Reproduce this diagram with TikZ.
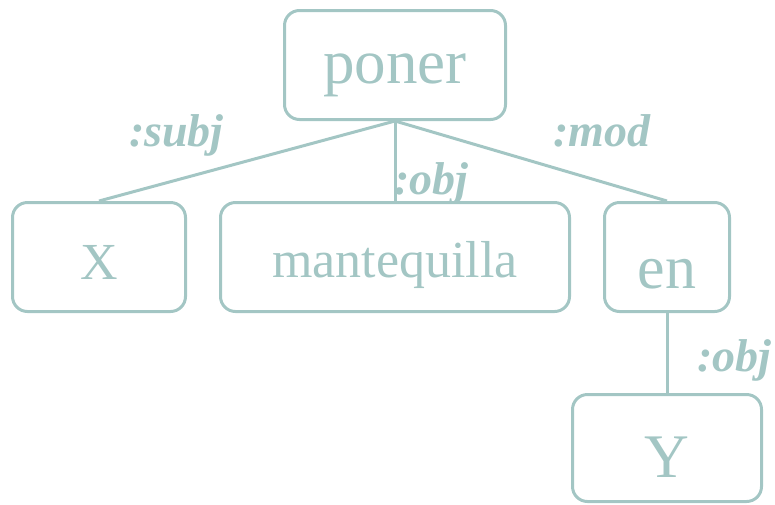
\documentclass[tikz,border=0pt]{standalone}
\usepackage{fontspec}
\setmainfont{Liberation Serif}
\definecolor{tc}{HTML}{A3C6C4}
\begin{document}
\begin{tikzpicture}[x=1pt,y=-1pt,
  box/.style={draw=tc, text=tc, line width=3pt, rounded corners=15pt, inner sep=0pt, text depth=0pt},
  lbl/.style={text=tc, font=\fontsize{46}{46}\selectfont\bfseries\itshape, inner sep=0pt, anchor=base west},
  conn/.style={draw=tc, line width=3pt}]
\useasboundingbox (0,0) rectangle (775,504);
\node[box, minimum width=221pt, minimum height=109pt, text height=36pt, font=\fontsize{63}{63}\selectfont] (poner) at (395,65) {poner};
\node[box, minimum width=173pt, minimum height=109pt, text height=44pt, font=\fontsize{52}{52}\selectfont] (X) at (99,257) {X};
\node[box, minimum width=349pt, minimum height=109pt, text height=40pt, font=\fontsize{52}{52}\selectfont] (mant) at (395,257) {mantequilla};
\node[box, minimum width=125pt, minimum height=109pt, text height=62pt, font=\fontsize{62}{62}\selectfont] (en) at (667,257) {en};
\node[box, minimum width=189pt, minimum height=107pt, text height=58pt, font=\fontsize{62}{62}\selectfont] (Y) at (667,448) {Y};
\draw[conn] (poner.south) -- (X.north);
\draw[conn] (poner.south) -- (mant.north);
\draw[conn] (poner.south) -- (en.north);
\draw[conn] (en.south) -- (Y.north);
\node[lbl] (l1) at (129,146) {:subj};
\node[lbl] (l2) at (553,146) {:mod};
\node[lbl] (l3) at (394,194) {:obj};
\node[lbl] (l4) at (697,371) {:obj};
\end{tikzpicture}
\end{document}
